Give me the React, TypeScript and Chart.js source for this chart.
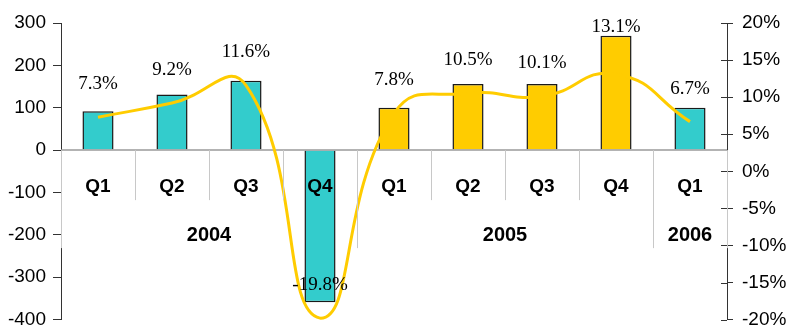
import React, { useEffect, useRef } from "react";
import { Chart, registerables } from "chart.js";

Chart.register(...registerables);

// ---- data ----
const quarters = ["Q1", "Q2", "Q3", "Q4", "Q1", "Q2", "Q3", "Q4", "Q1"];
const yearOf = ["2004", "2004", "2004", "2004", "2005", "2005", "2005", "2005", "2006"];
const barValues = [92, 131, 164, -359, 100, 156, 156, 270, 100];
const growthPct = [7.3, 9.2, 11.6, -19.8, 7.8, 10.5, 10.1, 13.1, 6.7];
const leftTicks = { min: -400, max: 300, step: 100 };
const rightTicks = { min: -20, max: 20, step: 5 };

// ---- styles ----
const TEAL = "#33CCCC";
const GOLD = "#FFCC00";
const yearColor: Record<string, string> = { "2004": TEAL, "2005": GOLD, "2006": TEAL };
const SANS = "'Liberation Sans', Arial, sans-serif";
const SERIF = "'Liberation Serif', 'Times New Roman', serif";

const overlayPlugin = {
  id: "overlay",
  afterDatasetDraw(chart: any, args: any) {
    if (args.meta.type !== "bar") return;
    const { ctx, chartArea } = chart;
    const y0 = chart.scales.y.getPixelForValue(0);
    ctx.save();
    ctx.strokeStyle = "#9a9a9a";
    ctx.lineWidth = 1.5;
    ctx.beginPath();
    ctx.moveTo(chartArea.left, y0);
    ctx.lineTo(chartArea.right, y0);
    ctx.stroke();
    ctx.restore();
  },
  afterDraw(chart: any) {
    const { ctx, chartArea } = chart;
    const xs = chart.scales.x;
    const ys = chart.scales.y;
    const y1s = chart.scales.y1;
    const y0 = ys.getPixelForValue(0);
    const n = quarters.length;
    const cw = (chartArea.right - chartArea.left) / n;
    ctx.save();
    // separators
    ctx.strokeStyle = "#c8c8c8";
    ctx.lineWidth = 1;
    for (let i = 0; i <= n; i++) {
      const x = Math.round(chartArea.left + i * cw) + 0.5;
      const isYear = i === 0 || i === n || yearOf[i] !== yearOf[i - 1];
      ctx.beginPath();
      ctx.moveTo(x, y0);
      ctx.lineTo(x, y0 + (isYear ? 98 : 50));
      ctx.stroke();
    }
    // quarter labels
    ctx.fillStyle = "#000";
    ctx.textAlign = "center";
    ctx.textBaseline = "middle";
    ctx.font = `bold 19px ${SANS}`;
    quarters.forEach((q, i) => {
      ctx.fillText(q, xs.getPixelForValue(i), y0 + 37);
    });
    // year labels
    ctx.font = `bold 20px ${SANS}`;
    let start = 0;
    for (let i = 1; i <= n; i++) {
      if (i === n || yearOf[i] !== yearOf[start]) {
        const cx = (xs.getPixelForValue(start) + xs.getPixelForValue(i - 1)) / 2;
        ctx.fillText(yearOf[start], cx, y0 + 85);
        start = i;
      }
    }
    // right axis cross ticks (inner half)
    ctx.strokeStyle = "#333";
    ctx.lineWidth = 1;
    const ax = chartArea.right;
    for (let v = rightTicks.min; v <= rightTicks.max; v += rightTicks.step) {
      const y = Math.round(y1s.getPixelForValue(v)) + 0.5;
      ctx.beginPath();
      ctx.moveTo(ax - 6, y);
      ctx.lineTo(ax, y);
      ctx.stroke();
    }
    // data labels (above the line point, lifted above the bar if they would overlap it)
    const lineMeta = chart.getDatasetMeta(0);
    const barMeta = chart.getDatasetMeta(1);
    ctx.font = `19px ${SERIF}`;
    ctx.fillStyle = "#000";
    lineMeta.data.forEach((pt: any, i: number) => {
      let y = pt.y - 33;
      const bar = barMeta.data[i];
      if (barValues[i] > 0 && bar && y + 10 > bar.y) y = bar.y - 9;
      ctx.fillText(`${growthPct[i].toFixed(1)}%`, pt.x, y);
    });
    ctx.restore();
  },
};

export default function App() {
  const ref = useRef<HTMLCanvasElement>(null);
  useEffect(() => {
    if (!ref.current) return;
    const chart = new Chart(ref.current, {
      type: "bar",
      data: {
        labels: quarters.map((q, i) => `${q} ${yearOf[i]}`),
        datasets: [
          {
            type: "line",
            label: "Growth",
            data: growthPct,
            yAxisID: "y1",
            borderColor: GOLD,
            borderWidth: 3,
            tension: 0.5,
            pointRadius: 0,
            fill: false,
            clip: false as any,
            order: 1,
          } as any,
          {
            type: "bar",
            label: "Value",
            data: barValues,
            yAxisID: "y",
            backgroundColor: yearOf.map((y) => yearColor[y]),
            borderColor: "#1a1a1a",
            borderWidth: 1.5,
            categoryPercentage: 1,
            barPercentage: 0.42,
            order: 2,
          } as any,
        ],
      },
      options: {
        animation: false,
        responsive: false,
        maintainAspectRatio: false,
        layout: { padding: { top: 23, bottom: 19, left: 0, right: 0 } },
        plugins: { legend: { display: false }, tooltip: { enabled: false } },
        scales: {
          x: { display: false, offset: true },
          y: {
            position: "left",
            min: leftTicks.min,
            max: leftTicks.max,
            ticks: {
              stepSize: leftTicks.step,
              color: "#000",
              font: { family: SANS, size: 19 },
              padding: 7,
            },
            grid: { drawOnChartArea: false, tickLength: 8, color: "#333" },
            border: { display: true, color: "#333", width: 1 },
            afterFit: (s: any) => {
              s.width = 61;
            },
          },
          y1: {
            position: "right",
            min: rightTicks.min,
            max: rightTicks.max,
            ticks: {
              stepSize: rightTicks.step,
              color: "#000",
              font: { family: SANS, size: 19 },
              padding: 9,
              callback: (v: any) => `${Math.round(Number(v))}%`,
            },
            grid: { drawOnChartArea: false, tickLength: 6, color: "#333" },
            border: { display: true, color: "#333", width: 1 },
            afterFit: (s: any) => {
              s.width = 61;
            },
          },
        },
      } as any,
      plugins: [overlayPlugin],
    });
    return () => chart.destroy();
  }, []);
  return (
    <div
      style={{
        position: "fixed",
        left: 0,
        top: 0,
        width: 788,
        height: 327,
        overflow: "hidden",
        background: "#fff",
      }}
    >
      <canvas ref={ref} width={788} height={340} style={{ display: "block" }} />
    </div>
  );
}
